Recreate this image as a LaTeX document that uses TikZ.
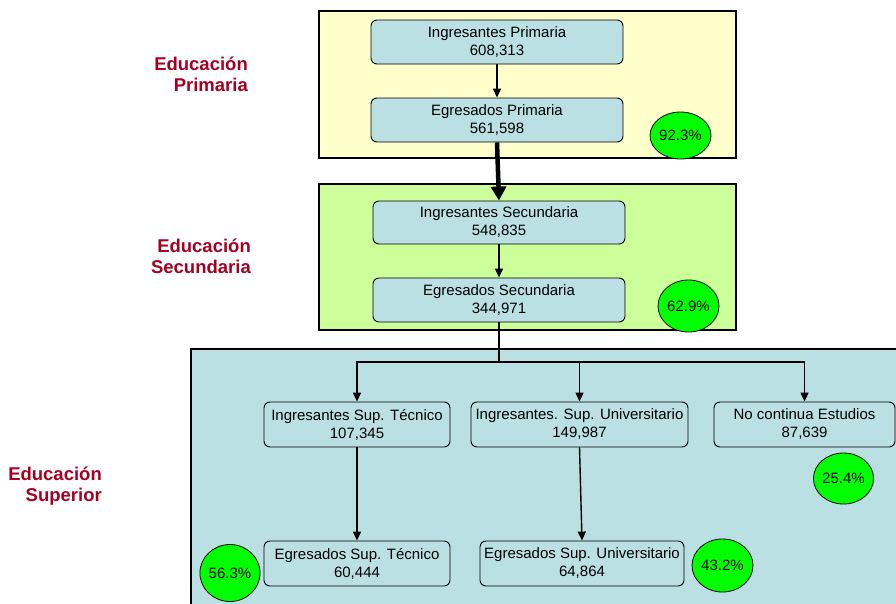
\documentclass[tikz,border=0pt]{standalone}
\usepackage{fontspec}
\setmainfont{Liberation Sans}
\usetikzlibrary{arrows.meta,shapes.geometric}
\definecolor{pfill}{HTML}{FFFFCC}
\definecolor{sfill}{HTML}{CCFF99}
\definecolor{tfill}{HTML}{BBE0E3}
\definecolor{labred}{HTML}{A50021}
\definecolor{pctgreen}{HTML}{00FF00}
\tikzset{
  stagebox/.style={draw, line width=1.1pt},
  flowbox/.style={draw, rounded corners=6pt, fill=tfill, line width=0.9pt, inner sep=0pt,
    align=center, font=\fontsize{15}{18}\selectfont},
  pctnode/.style={ellipse, draw, line width=0.8pt, fill=pctgreen, inner sep=0pt,
    font=\fontsize{15}{18}\selectfont},
  arr/.style={line width=1.4pt, -{Triangle[length=9pt,width=8pt]}},
  bigarr/.style={line width=4.5pt, -{Triangle[length=14pt,width=15pt]}},
  plainline/.style={line width=1.4pt},
  edulabel/.style={font=\bfseries\fontsize{18.5}{21}\selectfont, text=labred, align=right,
    inner sep=0pt, anchor=east}
}
\begin{document}
\begin{tikzpicture}[x=1pt,y=-1pt]
\useasboundingbox (0,0) rectangle (896,603);
\clip (0,0) rectangle (896,603);
% stage backgrounds
\draw[stagebox, fill=pfill] (319,11) rectangle (736,158);
\draw[stagebox, fill=sfill] (319,184) rectangle (736,330);
\draw[stagebox, fill=tfill] (191,349) rectangle (910,620);
% labels
\node[edulabel] (lp) at (248,74) {Educación\\Primaria};
\node[edulabel] (ls) at (251,256) {Educación\\Secundaria};
\node[edulabel] (lsu) at (102,486) {Educación\\Superior};
% primaria
\node[flowbox, minimum width=252pt, minimum height=44pt] (ip) at (497,42) {Ingresantes Primaria\\608,313};
\node[flowbox, minimum width=252pt, minimum height=44pt] (ep) at (497,120) {Egresados Primaria\\561,598};
\node[pctnode, minimum width=61pt, minimum height=47pt] (c1) at (680.5,135.5) {92.3\%};
% secundaria
\node[flowbox, minimum width=252pt, minimum height=43pt] (is) at (499,222.5) {Ingresantes Secundaria\\548,835};
\node[flowbox, minimum width=252pt, minimum height=44pt] (es) at (499,300) {Egresados Secundaria\\344,971};
\node[pctnode, minimum width=61pt, minimum height=52pt] (c2) at (688.5,306) {62.9\%};
% superior
\node[flowbox, minimum width=186pt, minimum height=45pt] (it) at (357,424.5) {Ingresantes Sup. Técnico\\107,345};
\node[flowbox, minimum width=217pt, minimum height=45pt] (iu) at (579.5,424.5) {Ingresantes. Sup. Universitario\\149,987};
\node[flowbox, minimum width=181pt, minimum height=45pt] (nc) at (804.5,424.5) {No continua Estudios\\87,639};
\node[pctnode, minimum width=59pt, minimum height=51pt] (c3) at (843.5,478.5) {25.4\%};
\node[flowbox, minimum width=186pt, minimum height=45pt] (et) at (357,563.5) {Egresados Sup. Técnico\\60,444};
\node[flowbox, minimum width=204pt, minimum height=45pt] (eu) at (582,563.5) {Egresados Sup. Universitario\\64,864};
\node[pctnode, minimum width=60pt, minimum height=57pt] (c4) at (230,573) {56.3\%};
\node[pctnode, minimum width=61pt, minimum height=53pt] (c5) at (722.5,565.5) {43.2\%};
% connectors
\draw[arr] (ip) -- (ep);
\draw[bigarr] (ep.south) -- (is.north);
\draw[arr] (is) -- (es);
\coordinate (j) at (499,362);
\draw[plainline] (es.south) -- (j);
\draw[arr] (j) -| (it.north);
\draw[arr] (j) -| (nc.north);
\draw[arr] (iu.north |- j) -- (iu.north);
\draw[arr] (it) -- (et);
\draw[arr] (iu.south) -- (eu.north);
\end{tikzpicture}
\end{document}
